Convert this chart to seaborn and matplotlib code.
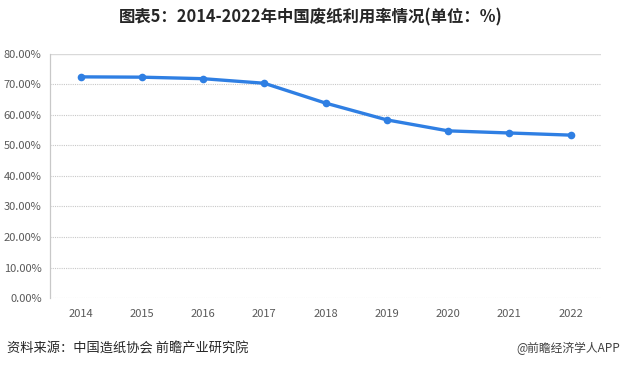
import pandas as pd
import matplotlib.pyplot as plt
import seaborn as sns
from matplotlib.ticker import FuncFormatter

# 2014-2022年中国废纸利用率 (%)
years = ['2014', '2015', '2016', '2017', '2018', '2019', '2020', '2021', '2022']
rates = [72.5, 72.4, 71.9, 70.4, 63.9, 58.4, 54.8, 54.1, 53.4]

df = pd.DataFrame({'year': years, 'rate': rates})

sns.set_style('white')
plt.rcParams['font.family'] = ['Noto Sans CJK SC', 'DejaVu Sans']

fig = plt.figure(figsize=(6.21, 3.69), dpi=100)
ax = fig.add_axes([0.0805, 0.1924, 0.8875, 0.6613])

sns.lineplot(x='year', y='rate', data=df, ax=ax, sort=False,
             color='#2F7FE3', linewidth=2.4, marker='o', markersize=5.5,
             markeredgewidth=0)

ax.set_xlim(-0.5, len(years) - 0.5)
ax.set_ylim(0, 80)
ax.set_yticks(range(0, 81, 10))
ax.yaxis.set_major_formatter(FuncFormatter(lambda v, p: f'{v:.2f}%'))
ax.set_xlabel('')
ax.set_ylabel('')

# 网格线
for v in range(0, 80, 10):
    ax.axhline(v, color='#C8C8C8', linewidth=0.8, linestyle=(0, (1, 1)), zorder=0)
ax.axhline(80, color='#D9D9D9', linewidth=1.0, zorder=0)

for s in ['top', 'right', 'bottom']:
    ax.spines[s].set_visible(False)
ax.spines['left'].set_color('#C8C8C8')
ax.spines['left'].set_linewidth(0.9)

ax.tick_params(axis='both', length=0, labelsize=8, colors='#595959')
ax.tick_params(axis='y', pad=6)
ax.tick_params(axis='x', pad=8)

fig.text(0.5, 0.953, '图表5：2014-2022年中国废纸利用率情况(单位：%)',
         ha='center', va='center', fontsize=11.8, fontweight='bold', color='#262626')
fig.text(0.012, 0.055, '资料来源：中国造纸协会 前瞻产业研究院',
         ha='left', va='center', fontsize=9.5, color='#262626')
fig.text(0.998, 0.055, '@前瞻经济学人APP',
         ha='right', va='center', fontsize=8.5, color='#404040')

plt.savefig('out.png', dpi=100)
